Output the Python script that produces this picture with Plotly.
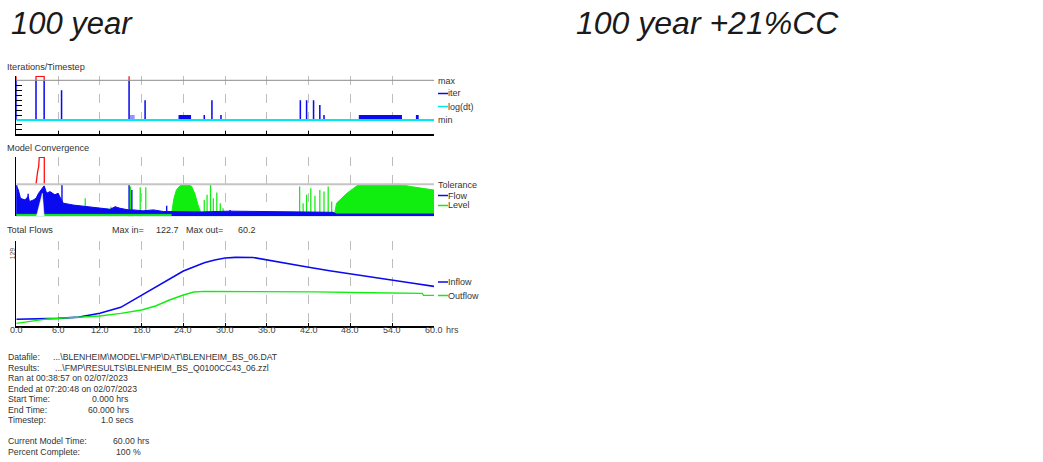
import plotly.graph_objects as go

# ---------------- data ----------------
hours_ticks = [0, 6, 12, 18, 24, 30, 36, 42, 48, 54, 60]

# Iterations/Timestep panel (units: iterations above "min"; "max" = 8)
iter_max = 8
iter_top = 8.8
iter_spike_t = [0.0, 2.83, 4.0, 6.5, 16.2, 18.5, 27.0, 28.1, 29.4, 40.8, 41.7, 42.7, 43.6, 44.2]
iter_spike_v = [12, 12, 12, 6, 12, 4, 1, 4, 1, 4, 4, 4, 3, 1]
iter_block_t0 = [16.25, 23.3, 49.2, 57.4]
iter_block_t1 = [17.0, 25.1, 55.4, 57.8]
iter_block_v = [1, 1, 1, 1]
over_t0 = [0.0, 2.83, 16.2]
over_t1 = [0.0, 4.0, 16.2]
logdt_t = [0, 60]
logdt_v = [0, 0]

# Model Convergence panel (tolerance = 1)
tolerance = 1.0
flow_t = [0, 0.3, 0.6, 1.25, 1.7, 1.9, 2.45, 2.83, 3.2, 3.6, 4.0, 4.36, 4.84, 5.55, 6.0, 6.37,
          6.75, 8.2, 10.1, 12.0, 13.5, 14.2, 14.9, 16.1, 16.8, 18.2, 19.7, 21.1, 22.3, 26.4,
          30.7, 36.0, 40.8, 45.5, 46.0, 60.0]
flow_v = [0.96, 0.82, 0.56, 0.51, 0.62, 0.46, 0.51, 0.56, 0.72, 0.82, 0.95, 0.72, 0.77, 0.67, 0.72, 0.56,
          0.41, 0.35, 0.30, 0.25, 0.22, 0.30, 0.25, 0.20, 0.20, 0.17, 0.20, 0.15, 0.15, 0.135,
          0.16, 0.15, 0.15, 0.125, 0.07, 0.07]
flow_spike_t = [0.05, 1.7, 6.56, 16.2, 16.6, 21.6, 30.7]
flow_spike_v = [0.98, 0.70, 0.98, 0.98, 0.82, 0.33, 0.20]

level_t = [0, 22.3, 22.45, 22.65, 23.0, 23.5, 24.0, 24.7, 25.2, 25.7, 26.1, 26.4, 26.6,
           45.7, 46.0, 47.5, 49.1, 55.1, 56.6, 60.0]
level_v = [0.05, 0.05, 0.30, 0.56, 0.82, 0.95, 1.0, 1.0, 0.93, 0.67, 0.35, 0.15, 0.06,
           0.06, 0.41, 0.72, 0.98, 1.0, 0.93, 0.82]
level_spike_t = [2.83, 3.9, 9.9, 13.6, 16.4, 17.8, 18.6, 27.0, 27.4, 27.9, 28.3, 28.8, 29.3, 29.7,
                 40.7, 41.2, 41.7, 42.3, 42.9, 43.6, 44.2, 44.8, 45.3]
level_spike_v = [0.51, 0.90, 0.56, 0.30, 0.93, 0.91, 0.91, 0.51, 0.67, 0.98, 0.56, 0.74, 0.41, 0.25,
                 0.93, 0.41, 0.67, 0.875, 0.64, 0.82, 0.77, 0.93, 0.46]
level_base_t = [0, 22.3]
level_base_v = [0.06, 0.06]
gap_t = [2.9, 3.74, 4.0]
gap_v = [0, 0.72, 0]
red_t = [2.83, 2.92, 3.07, 3.21, 3.3, 4.02, 4.02]
red_v = [1.0, 1.24, 1.40, 1.55, 1.84, 1.84, 1.0]

# Total Flows panel
inflow_t = [0, 2.4, 4.4, 6, 9, 12, 15, 18, 21, 24, 27, 28.5, 30, 31.5, 34, 36, 39, 42, 45, 48, 51, 54, 57, 60]
inflow_v = [8.8, 9.4, 10.0, 10.5, 12.9, 19.8, 30.8, 53.5, 76.2, 97.6, 112.9, 118, 121.5, 122.7, 122.5,
            117.8, 111.3, 104.4, 98.2, 92.1, 86.0, 79.9, 75.0, 69.4]
outflow_t = [0, 1, 3, 4.5, 6, 9, 12, 15, 18, 20, 22, 24, 25.5, 27, 30, 36, 42.8, 43, 51, 54, 58.3, 58.5, 60]
outflow_v = [1.4, 3.0, 7.5, 9.5, 10.6, 12.5, 14.9, 19.8, 25.9, 33.3, 44.3, 53.5, 59.0, 60.2, 60.2, 60.2,
             60.2, 59.2, 57.7, 57.1, 56.5, 52.9, 52.9]
max_in = 122.7
max_out = 60.2
flow_axis_label = 129

info_labels = ["Datafile:", "Results:", "Ran at 00:38:57 on 02/07/2023", "Ended at 07:20:48 on 02/07/2023",
               "Start Time:", "End Time:", "Timestep:", "Current Model Time:", "Percent Complete:"]
info_values = ["...\\BLENHEIM\\MODEL\\FMP\\DAT\\BLENHEIM_BS_06.DAT",
               "...\\FMP\\RESULTS\\BLENHEIM_BS_Q0100CC43_06.zzl",
               "", "", "0.000 hrs", "60.000 hrs", "1.0 secs", "60.00 hrs", "100 %"]

# ---------------- layout helpers ----------------
W, H = 1043, 462
def fx(px):
    return px / W
def fy(py):
    return 1 - py / H

XL, XR = 16.3, 434.0
P1 = (75.7, 134.0)
P2 = (157.0, 216.3)
P3 = (241.0, 326.0)
FONT = "Liberation Sans, Arial, sans-serif"
BLUE = "#0a0af0"
GREEN = "#10ee10"
RED = "#ff1010"
CYAN = "#00e8f0"
TXT = "#333333"

fig = go.Figure()

# ---- Panel 1 ----
blue_bar_v = [min(v, iter_max) for v in iter_spike_v]
fig.add_trace(go.Bar(x=iter_spike_t, y=blue_bar_v, base=0, width=[0.22] * len(iter_spike_t),
                     marker=dict(color=BLUE, line=dict(width=0)), xaxis="x", yaxis="y"))
blk_c = [(a + b) / 2 for a, b in zip(iter_block_t0, iter_block_t1)]
blk_w = [b - a for a, b in zip(iter_block_t0, iter_block_t1)]
blk_col = ["rgba(60,60,255,0.55)"] + [BLUE] * (len(blk_c) - 1)
fig.add_trace(go.Bar(x=blk_c, y=iter_block_v, base=0, width=blk_w,
                     marker=dict(color=blk_col, line=dict(width=0)), xaxis="x", yaxis="y"))
rx, ry = [], []
for a, b in zip(over_t0, over_t1):
    rx += [a, a, b, b, None]
    ry += [iter_max, iter_top, iter_top, iter_max, None]
fig.add_trace(go.Scatter(x=logdt_t, y=logdt_v, mode="lines", line=dict(color=CYAN, width=2),
                         xaxis="x", yaxis="y"))
fig.add_trace(go.Scatter(x=rx, y=ry, mode="lines", line=dict(color=RED, width=1.3),
                         xaxis="x", yaxis="y"))

# ---- Panel 2 ----
fig.add_trace(go.Scatter(x=level_t, y=level_v, mode="lines", fill="tozeroy", fillcolor=GREEN,
                         line=dict(color=GREEN, width=1), xaxis="x2", yaxis="y2"))
fig.add_trace(go.Bar(x=level_spike_t, y=level_spike_v, base=0, width=[0.18] * len(level_spike_t),
                     marker=dict(color=GREEN, line=dict(width=0)), xaxis="x2", yaxis="y2"))
fig.add_trace(go.Scatter(x=flow_t, y=flow_v, mode="lines", fill="tozeroy", fillcolor=BLUE,
                         line=dict(color=BLUE, width=1), xaxis="x2", yaxis="y2"))
fig.add_trace(go.Bar(x=flow_spike_t, y=flow_spike_v, base=0, width=[0.2] * len(flow_spike_t),
                     marker=dict(color=BLUE, line=dict(width=0)), xaxis="x2", yaxis="y2"))
fig.add_trace(go.Scatter(x=level_base_t, y=level_base_v, mode="lines", fill="tozeroy", fillcolor=GREEN,
                         line=dict(color=GREEN, width=1), xaxis="x2", yaxis="y2"))
fig.add_trace(go.Scatter(x=gap_t, y=gap_v, mode="lines", fill="toself", fillcolor="white",
                         line=dict(color="white", width=0.5), xaxis="x2", yaxis="y2"))
fig.add_trace(go.Scatter(x=red_t, y=red_v, mode="lines", line=dict(color=RED, width=1.3),
                         xaxis="x2", yaxis="y2"))

# ---- Panel 3 ----
fig.add_trace(go.Scatter(x=inflow_t, y=inflow_v, mode="lines", line=dict(color=BLUE, width=1.6),
                         xaxis="x3", yaxis="y3"))
fig.add_trace(go.Scatter(x=outflow_t, y=outflow_v, mode="lines", line=dict(color=GREEN, width=1.4),
                         xaxis="x3", yaxis="y3"))

def xax(**kw):
    d = dict(domain=[fx(XL), fx(XR)], range=[0, 60], tickvals=hours_ticks, showgrid=True,
             gridcolor="#bdbdbd", griddash="dash", gridwidth=1, zeroline=False, fixedrange=True)
    d.update(kw)
    return d

layout = dict(
    width=W, height=H, autosize=False, margin=dict(l=0, r=0, t=0, b=0),
    paper_bgcolor="white", plot_bgcolor="white", showlegend=False, barmode="overlay",
    font=dict(family=FONT, color=TXT, size=9), hovermode=False,
    xaxis=xax(anchor="y", showticklabels=False, ticks="inside", ticklen=3, tickcolor="black",
              showline=True, linecolor="black", linewidth=1.5),
    yaxis=dict(domain=[fy(P1[1]), fy(P1[0])], range=[-2.82, 8.93], anchor="x", showgrid=False,
               zeroline=False, showline=True, linecolor="black", linewidth=1, ticks="inside",
               ticklen=6, tickcolor="black", tickvals=[-2, -1, 1, 2, 3, 4, 5, 6, 7],
               showticklabels=False, fixedrange=True),
    xaxis2=xax(anchor="y2", showticklabels=False, ticks="", showline=False),
    yaxis2=dict(domain=[fy(P2[1]), fy(P2[0])], range=[0, 1.85], anchor="x2", showgrid=False,
                zeroline=False, showline=True, linecolor="black", linewidth=1, ticks="",
                showticklabels=False, fixedrange=True),
    xaxis3=xax(anchor="y3", showticklabels=False, ticks="inside", ticklen=3, tickcolor="black",
               showline=True, linecolor="black", linewidth=1.5),
    yaxis3=dict(domain=[fy(P3[1]), fy(P3[0])], range=[-3.5, 152.8], anchor="x3", showgrid=False,
                zeroline=False, showline=True, linecolor="black", linewidth=1, ticks="",
                showticklabels=False, fixedrange=True),
)
fig.update_layout(**layout)

shapes = []
shapes.append(dict(type="line", xref="x", yref="y", x0=0, x1=60, y0=iter_max, y1=iter_max,
                   line=dict(color="#8c8c8c", width=1), layer="above"))
shapes.append(dict(type="line", xref="x2", yref="y2", x0=0, x1=60, y0=tolerance, y1=tolerance,
                   line=dict(color="#c4c4c4", width=2), layer="above"))
def swatch(py, color):
    shapes.append(dict(type="line", xref="paper", yref="paper", x0=fx(438), x1=fx(448),
                       y0=fy(py), y1=fy(py), line=dict(color=color, width=1.5)))
swatch(93.5, BLUE)
swatch(106.5, CYAN)
swatch(195.5, BLUE)
swatch(205.5, GREEN)
swatch(282, BLUE)
swatch(295.5, GREEN)
fig.update_layout(shapes=shapes)

ann = []
def text(x, y, s, size=9, color=TXT, **kw):
    d = dict(x=fx(x), y=fy(y), xref="paper", yref="paper", text=s, showarrow=False,
             xanchor="left", yanchor="middle", font=dict(size=size, color=color, family=FONT))
    d.update(kw)
    ann.append(d)

text(9, 23, "<i>100 year</i>", size=31, color="#1a1a1a")
text(574, 23, "<i>100 year +21%CC</i>", size=32, color="#1a1a1a")

text(5, 67, "Iterations/Timestep", size=9.2)
text(5, 148.5, "Model Convergence", size=9.2)
text(5, 230, "Total Flows", size=9.2)
text(110, 230, "Max in=", size=9)
text(154, 230, f"{max_in:.1f}", size=9)
text(184, 230, "Max out=", size=9)
text(236, 230, f"{max_out:.1f}", size=9)

text(436, 80.5, "max", size=9)
text(446, 93.5, "iter", size=9)
text(446, 106.5, "log(dt)", size=9)
text(436, 120, "min", size=9)
text(436, 184.5, "Tolerance", size=9)
text(446, 195.5, "Flow", size=9)
text(446, 205.5, "Level", size=9)
text(446, 282, "Inflow", size=9)
text(446, 295.5, "Outflow", size=9)
text(444, 330, "hrs", size=9, color="#444444")

# x tick labels of the Total Flows axis
for h in hours_ticks:
    ann.append(dict(x=h, y=fy(330), xref="x3", yref="paper", text=f"{h:.1f}", showarrow=False,
                    xanchor="center", yanchor="middle",
                    font=dict(size=9, color="#444444", family=FONT)))

ann.append(dict(x=fx(12.5), y=flow_axis_label, xref="paper", yref="y3", text=str(flow_axis_label),
                showarrow=False, textangle=-90, xanchor="center", yanchor="middle",
                font=dict(size=7, color="#555555", family=FONT)))

ys = [357, 367.5, 378, 388.5, 399, 409.5, 420, 441, 452]
vx = [51, 53, None, None, 89.5, 86, 98.5, 111, 114]
for lab, val, y, x2 in zip(info_labels, info_values, ys, vx):
    text(6, y, lab, size=8.7)
    if val:
        text(x2, y, val, size=8.7)
fig.update_layout(annotations=ann)

fig.write_html("out.html", config={"displayModeBar": False, "staticPlot": True},
               post_script="document.body.style.margin='0px';")
